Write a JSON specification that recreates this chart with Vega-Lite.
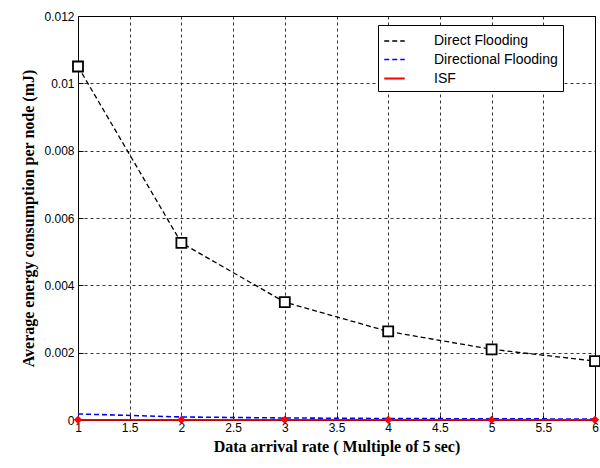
{
  "$schema": "https://vega.github.io/schema/vega-lite/v6.json",
  "width": 517,
  "height": 404,
  "autosize": {"type": "none"},
  "padding": {"left": 78, "top": 16, "right": 5, "bottom": 48},
  "background": "white",
  "data": {"values": [
    {"rate": 1, "energy": 0.0105, "series": "Direct Flooding"},
    {"rate": 2, "energy": 0.00526, "series": "Direct Flooding"},
    {"rate": 3, "energy": 0.0035, "series": "Direct Flooding"},
    {"rate": 4, "energy": 0.00263, "series": "Direct Flooding"},
    {"rate": 5, "energy": 0.0021, "series": "Direct Flooding"},
    {"rate": 6, "energy": 0.00175, "series": "Direct Flooding"},
    {"rate": 1, "energy": 0.00018, "series": "Directional Flooding"},
    {"rate": 2, "energy": 0.00009, "series": "Directional Flooding"},
    {"rate": 3, "energy": 0.00006, "series": "Directional Flooding"},
    {"rate": 4, "energy": 0.000045, "series": "Directional Flooding"},
    {"rate": 5, "energy": 0.000036, "series": "Directional Flooding"},
    {"rate": 6, "energy": 0.00003, "series": "Directional Flooding"},
    {"rate": 1, "energy": 0.000005, "series": "ISF"},
    {"rate": 2, "energy": 0.000005, "series": "ISF"},
    {"rate": 3, "energy": 0.000005, "series": "ISF"},
    {"rate": 4, "energy": 0.000005, "series": "ISF"},
    {"rate": 5, "energy": 0.000005, "series": "ISF"},
    {"rate": 6, "energy": 0.000005, "series": "ISF"}
  ]},
  "encoding": {
    "x": {"field": "rate", "type": "quantitative",
      "scale": {"domain": [1, 6], "nice": false, "zero": false},
      "axis": {"title": "Data arrival rate ( Multiple of 5 sec)", "values": [1, 1.5, 2, 2.5, 3, 3.5, 4, 4.5, 5, 5.5, 6], "format": "~g",
        "titleFont": "Liberation Serif", "titleFontSize": 16, "titleFontWeight": "bold", "titleColor": "black", "titlePadding": 5,
        "labelFont": "Liberation Sans", "labelFontSize": 12, "labelColor": "black", "labelPadding": 7,
        "grid": true, "gridDash": [3, 3], "gridColor": "black", "gridOpacity": 1, "gridWidth": 0.8,
        "domain": false, "ticks": true, "tickSize": -5, "tickColor": "black", "labelFlush": false}},
    "y": {"field": "energy", "type": "quantitative",
      "scale": {"domain": [0, 0.012], "nice": false},
      "axis": {"title": "Average energy consumption per node (mJ)", "values": [0, 0.002, 0.004, 0.006, 0.008, 0.01, 0.012], "format": ".3~f",
        "titleFont": "Liberation Serif", "titleFontSize": 16, "titleFontWeight": "bold", "titleColor": "black", "titlePadding": 7,
        "labelFont": "Liberation Sans", "labelFontSize": 12, "labelColor": "black", "labelPadding": 9,
        "grid": true, "gridDash": [3, 3], "gridColor": "black", "gridOpacity": 1, "gridWidth": 0.8,
        "domain": false, "ticks": true, "tickSize": -5, "tickColor": "black"}},
    "color": {"field": "series", "type": "nominal",
      "scale": {"domain": ["Direct Flooding", "Directional Flooding", "ISF"], "range": ["black", "blue", "red"]},
      "legend": {"title": null, "orient": "none", "legendX": 300, "legendY": 9,
        "strokeColor": "black", "fillColor": "white", "padding": 5, "labelFont": "Liberation Sans", "labelFontSize": 14, "labelColor": "black",
        "symbolType": "stroke", "symbolSize": 420, "rowPadding": 0, "symbolStrokeWidth": 2, "labelOffset": 28}}
  },
  "config": {"view": {"stroke": "black", "strokeWidth": 1}},
  "layer": [
    {"mark": {"type": "line"},
      "encoding": {
        "strokeDash": {"field": "series", "type": "nominal",
          "scale": {"domain": ["Direct Flooding", "Directional Flooding", "ISF"], "range": [[5, 3], [5, 3], [1, 0]]}},
        "strokeWidth": {"field": "series", "type": "nominal",
          "scale": {"domain": ["Direct Flooding", "Directional Flooding", "ISF"], "range": [1.3, 1.8, 2.5]}}
      }},
    {"mark": {"type": "point", "filled": false, "strokeWidth": 1.8, "opacity": 1},
      "transform": [{"filter": "datum.series === 'Direct Flooding'"}],
      "encoding": {"shape": {"value": "square"}, "size": {"value": 100}, "fill": {"value": "white"}, "fillOpacity": {"value": 1}}},
    {"mark": {"type": "point", "filled": true, "opacity": 1},
      "transform": [{"filter": "datum.series === 'ISF'"}],
      "encoding": {"shape": {"value": "diamond"}, "size": {"value": 70}}}
  ]
}
